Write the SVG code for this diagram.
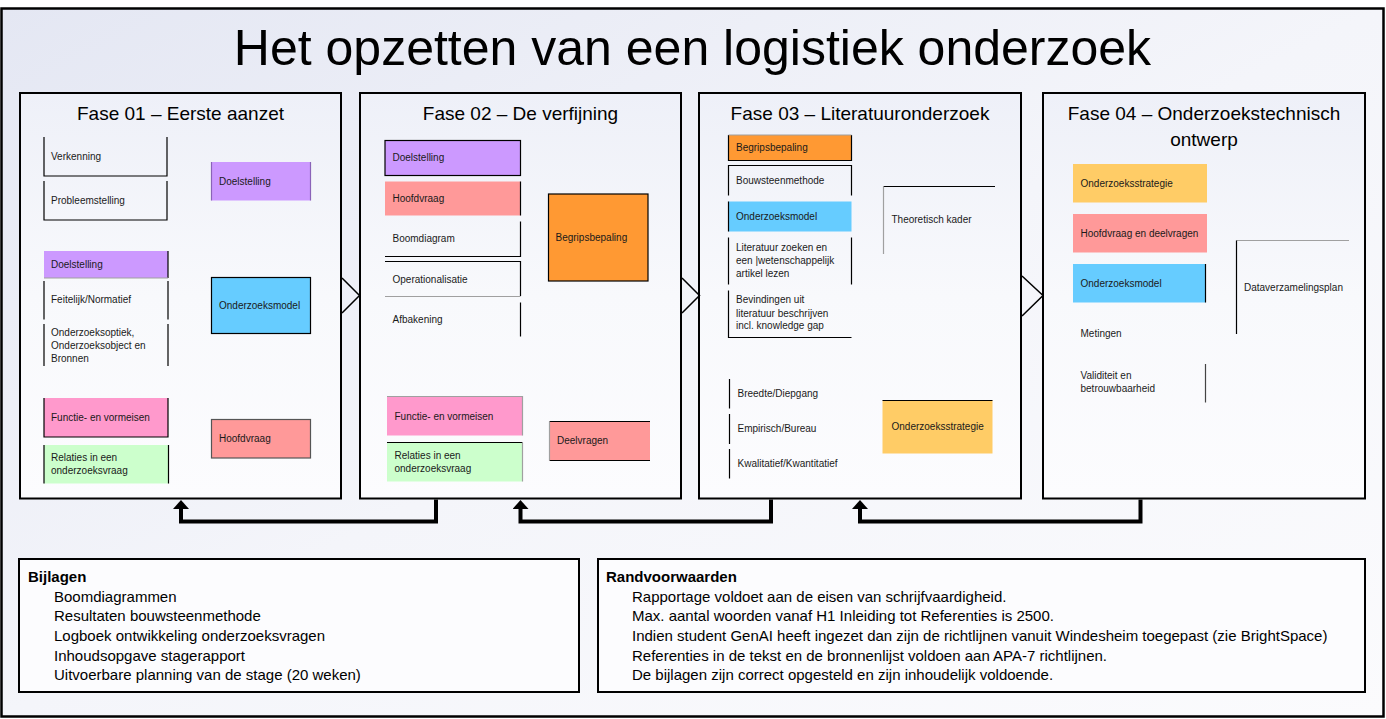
<svg xmlns="http://www.w3.org/2000/svg" width="1386" height="719" viewBox="0 0 1386 719">
<defs>
<linearGradient id="bg" x1="0" y1="0" x2="1" y2="1">
<stop offset="0" stop-color="#e4e7f3"/>
<stop offset="0.5" stop-color="#f4f5fa"/>
<stop offset="1" stop-color="#fbfbfd"/>
</linearGradient>
<linearGradient id="ph" x1="0" y1="0" x2="0" y2="1">
<stop offset="0" stop-color="#eef0f8"/>
<stop offset="0.5" stop-color="#f8f9fc"/>
<stop offset="1" stop-color="#fcfcfe"/>
</linearGradient>
<marker id="ah" viewBox="0 0 9 16" refX="0" refY="8" markerWidth="9" markerHeight="16" markerUnits="userSpaceOnUse" orient="auto">
<path d="M0,0 L9,8 L0,16 Z" fill="#000"/>
</marker>
</defs>
<style>
.frame{fill:none;stroke:#000;stroke-width:2.5}
.phase{fill:url(#ph);stroke:#000;stroke-width:2}
.title{font-family:"Liberation Sans",Arial,sans-serif;font-size:50px;fill:#000}
.ph{font-family:"Liberation Sans",Arial,sans-serif;font-size:19px;fill:#000;text-anchor:middle}
.t{font-family:"Liberation Sans",Arial,sans-serif;font-size:10px;fill:#1a1a1a}
.b{fill:none;stroke:#000;stroke-width:1.2}
.g{fill:none;stroke:#a0a0a0;stroke-width:1.2}
.pu{fill:#cc99ff}.bl{fill:#66ccff}.sa{fill:#ff9999}.pk{fill:#ff99cc}.gr{fill:#ccffcc}.or{fill:#ff9933}.ye{fill:#ffcc66}
.chev{fill:none;stroke:#000;stroke-width:1.5}
.conn{fill:none;stroke:#000;stroke-width:4;marker-end:url(#ah)}
.box{fill:#fcfcfe;stroke:#000;stroke-width:2}
.bt{font-family:"Liberation Sans",Arial,sans-serif;font-size:15px;fill:#000}
.bh{font-weight:bold}
</style>
<rect x="0" y="0" width="1386" height="719" fill="#ffffff"/>
<rect x="1.5" y="8.5" width="1382" height="708" fill="url(#bg)"/>
<rect class="frame" x="1.5" y="8.5" width="1382" height="708"/>
<text class="title" x="692.5" y="65" text-anchor="middle">Het opzetten van een logistiek onderzoek</text>

<!-- Fase 01 -->
<g id="fase01">
<rect class="phase" x="20" y="93" width="321" height="405.5"/>
<text class="ph" x="180.5" y="120">Fase 01 – Eerste aanzet</text>
<g id="f1-verkenning"><path class="b" d="M44,137 V176 H167 V137"/><text class="t" x="51" y="160">Verkenning</text></g>
<g id="f1-probleemstelling"><path class="b" d="M44,181 V220 H167 V181"/><text class="t" x="51" y="204">Probleemstelling</text></g>
<g id="f1-doelstelling-r"><rect class="pu" x="211.5" y="162" width="99" height="38.5"/><path d="M211.5,162 V200.5 M310.5,162 V200.5" stroke="#8a63b8" stroke-width="1.2"/><text class="t" x="219" y="185">Doelstelling</text></g>
<g id="f1-doelstelling-l"><rect class="pu" x="44" y="251" width="124" height="27"/><path class="b" d="M168,251 V278"/><path class="g" d="M44,278 H168"/><text class="t" x="51" y="267.5">Doelstelling</text></g>
<g id="f1-feitelijk"><path class="b" d="M44,281 V319.5 M168,281 V319.5"/><text class="t" x="51" y="303">Feitelijk/Normatief</text></g>
<g id="f1-optiek"><path class="b" d="M44,324 V366 M168,324 V366"/><text class="t" x="51" y="335.5">Onderzoeksoptiek,</text><text class="t" x="51" y="348.5">Onderzoeksobject en</text><text class="t" x="51" y="361.5">Bronnen</text></g>
<g id="f1-onderzoeksmodel"><rect class="bl" x="211.5" y="277.5" width="99" height="56"/><rect class="b" x="211.5" y="277.5" width="99" height="56"/><text class="t" x="219" y="309">Onderzoeksmodel</text></g>
<g id="f1-functie"><rect class="pk" x="44" y="398" width="124" height="39"/><path class="b" d="M44,398 V437 H168 V398"/><text class="t" x="51" y="421">Functie- en vormeisen</text></g>
<g id="f1-relaties"><rect class="gr" x="44" y="445" width="124.5" height="38.5"/><path class="b" d="M44,445 V483.5 M168.5,445 V483.5"/><text class="t" x="51" y="461">Relaties in een</text><text class="t" x="51" y="474">onderzoeksvraag</text></g>
<g id="f1-hoofdvraag"><rect class="sa" x="211.5" y="419.5" width="99" height="38.5"/><rect x="211.5" y="419.5" width="99" height="38.5" fill="none" stroke="#555" stroke-width="1.2"/><text class="t" x="219" y="442">Hoofdvraag</text></g>
</g>

<!-- Fase 02 -->
<g id="fase02">
<rect class="phase" x="360" y="93" width="321" height="405.5"/>
<text class="ph" x="520.5" y="120">Fase 02 – De verfijning</text>
<g id="f2-doelstelling"><rect class="pu" x="385" y="140.5" width="135.5" height="35"/><rect class="b" x="385" y="140.5" width="135.5" height="35"/><text class="t" x="392.5" y="161">Doelstelling</text></g>
<g id="f2-hoofdvraag"><rect class="sa" x="385" y="181.5" width="135.5" height="34"/><path class="b" d="M520.5,181.5 V215.5"/><text class="t" x="392.5" y="202">Hoofdvraag</text></g>
<g id="f2-boomdiagram"><path class="b" d="M385,256.5 H520.5 V221.5"/><text class="t" x="392.5" y="242">Boomdiagram</text></g>
<g id="f2-operationalisatie"><path class="b" d="M385,261.5 H520.5 V296"/><path class="g" d="M385,296.5 H520.5"/><text class="t" x="392.5" y="282.5">Operationalisatie</text></g>
<g id="f2-afbakening"><path class="b" d="M520.5,302.5 V336.5"/><text class="t" x="392.5" y="323">Afbakening</text></g>
<g id="f2-begripsbepaling"><rect class="or" x="548.5" y="194" width="99.5" height="87"/><rect class="b" x="548.5" y="194" width="99.5" height="87"/><text class="t" x="555.5" y="241">Begripsbepaling</text></g>
<g id="f2-functie"><rect class="pk" x="387" y="396.5" width="135.5" height="39"/><path class="g" d="M387,396.5 H522.5 V435.5"/><text class="t" x="394.5" y="420">Functie- en vormeisen</text></g>
<g id="f2-relaties"><rect class="gr" x="387" y="442.5" width="135.5" height="39"/><path class="b" d="M387,442.5 H522.5"/><path class="g" d="M522.5,442.5 V481.5"/><text class="t" x="394.5" y="459">Relaties in een</text><text class="t" x="394.5" y="471.5">onderzoeksvraag</text></g>
<g id="f2-deelvragen"><rect class="sa" x="549.5" y="421.5" width="100.5" height="39"/><path class="b" d="M549.5,421.5 H650 M549.5,460.5 H650"/><path class="g" d="M549.5,421.5 V460.5"/><text class="t" x="557" y="444">Deelvragen</text></g>
</g>

<!-- Fase 03 -->
<g id="fase03">
<rect class="phase" x="699" y="93" width="322" height="405.5"/>
<text class="ph" x="860" y="120">Fase 03 – Literatuuronderzoek</text>
<g id="f3-begripsbepaling"><rect class="or" x="728.5" y="135" width="123" height="25.5"/><path class="b" d="M728.5,135 V160.5 H851.5 V135"/><path class="g" d="M728.5,135 H851.5"/><text class="t" x="736" y="151">Begripsbepaling</text></g>
<g id="f3-bouwsteen"><path class="b" d="M728.5,195.5 V165.5 H851.5 V195.5"/><text class="t" x="736" y="184">Bouwsteenmethode</text></g>
<g id="f3-onderzoeksmodel"><rect class="bl" x="728.5" y="201.5" width="123" height="30"/><path class="b" d="M728.5,201.5 V231.5"/><text class="t" x="736" y="220">Onderzoeksmodel</text></g>
<g id="f3-literatuur"><path class="b" d="M728.5,237.5 V284.5 M851.5,237.5 V284.5"/><text class="t" x="736" y="251">Literatuur zoeken en</text><text class="t" x="736" y="264">een |wetenschappelijk</text><text class="t" x="736" y="277">artikel lezen</text></g>
<g id="f3-bevindingen"><path class="b" d="M728.5,290.5 V337.5 H851.5"/><text class="t" x="736" y="303">Bevindingen uit</text><text class="t" x="736" y="316.5">literatuur beschrijven</text><text class="t" x="736" y="329">incl. knowledge gap</text></g>
<g id="f3-theoretisch"><path class="b" d="M883.5,186.5 H995"/><path class="g" d="M883.5,186.5 V254"/><text class="t" x="891.5" y="222.5">Theoretisch kader</text></g>
<g id="f3-breedte"><path class="b" d="M729.5,379 V408.5"/><text class="t" x="737.5" y="396.5">Breedte/Diepgang</text></g>
<g id="f3-empirisch"><path class="b" d="M729.5,414 V444"/><text class="t" x="737.5" y="431.5">Empirisch/Bureau</text></g>
<g id="f3-kwalitatief"><path class="b" d="M729.5,449 V478.5"/><text class="t" x="737.5" y="466.5">Kwalitatief/Kwantitatief</text></g>
<g id="f3-onderzoeksstrategie"><rect class="ye" x="882.5" y="400.5" width="110" height="53"/><path class="b" d="M882.5,400.5 H992.5"/><text class="t" x="891.5" y="430">Onderzoeksstrategie</text></g>
</g>

<!-- Fase 04 -->
<g id="fase04">
<rect class="phase" x="1043" y="93" width="322" height="405.5"/>
<text class="ph" x="1204" y="120">Fase 04 – Onderzoekstechnisch</text>
<text class="ph" x="1204" y="146">ontwerp</text>
<g id="f4-onderzoeksstrategie"><rect class="ye" x="1073" y="164" width="134" height="38.5"/><text class="t" x="1080.5" y="186.5">Onderzoeksstrategie</text></g>
<g id="f4-hoofdvraag"><rect class="sa" x="1073" y="214" width="134" height="38.5"/><text class="t" x="1080.5" y="236.5">Hoofdvraag en deelvragen</text></g>
<g id="f4-onderzoeksmodel"><rect class="bl" x="1073" y="264" width="132.5" height="38.5"/><path class="b" d="M1205.5,264 V302.5"/><text class="t" x="1080.5" y="286.5">Onderzoeksmodel</text></g>
<g id="f4-metingen"><text class="t" x="1080.5" y="336.5">Metingen</text></g>
<g id="f4-validiteit"><path d="M1205.5,364 V402.5" stroke="#444" stroke-width="1.2"/><text class="t" x="1080.5" y="379">Validiteit en</text><text class="t" x="1080.5" y="392">betrouwbaarheid</text></g>
<g id="f4-dataverzameling"><path class="g" d="M1236.5,240.5 H1349"/><path class="b" d="M1236.5,240.5 V334"/><text class="t" x="1244" y="290.5">Dataverzamelingsplan</text></g>
</g>

<!-- connectors -->
<g id="connectors">
<polyline class="chev" points="342,278 359.5,295.5 342,313"/>
<polyline class="chev" points="682,278 699.5,295.5 682,313"/>
<polyline class="chev" points="1022,276 1043,295.5 1022,316"/>
<path class="conn" d="M436,499.5 V521.5 H181 V509"/>
<path class="conn" d="M771,499.5 V521.5 H520.5 V509"/>
<path class="conn" d="M1140.5,499.5 V521.5 H860 V509"/>
</g>

<!-- bottom boxes -->
<g id="bijlagen">
<rect class="box" x="19" y="559" width="560" height="133"/>
<text class="bt bh" x="28" y="582">Bijlagen</text>
<text class="bt" x="54" y="601.5">Boomdiagrammen</text>
<text class="bt" x="54" y="621">Resultaten bouwsteenmethode</text>
<text class="bt" x="54" y="641">Logboek ontwikkeling onderzoeksvragen</text>
<text class="bt" x="54" y="660.5">Inhoudsopgave stagerapport</text>
<text class="bt" x="54" y="680">Uitvoerbare planning van de stage (20 weken)</text>
</g>
<g id="randvoorwaarden">
<rect class="box" x="598" y="559" width="767" height="133"/>
<text class="bt bh" x="606" y="582">Randvoorwaarden</text>
<text class="bt" x="632" y="601.5">Rapportage voldoet aan de eisen van schrijfvaardigheid.</text>
<text class="bt" x="632" y="621">Max. aantal woorden vanaf H1 Inleiding tot Referenties is 2500.</text>
<text class="bt" x="632" y="641">Indien student GenAI heeft ingezet dan zijn de richtlijnen vanuit Windesheim toegepast (zie BrightSpace)</text>
<text class="bt" x="632" y="660.5">Referenties in de tekst en de bronnenlijst voldoen aan APA-7 richtlijnen.</text>
<text class="bt" x="632" y="680">De bijlagen zijn correct opgesteld en zijn inhoudelijk voldoende.</text>
</g>
</svg>
